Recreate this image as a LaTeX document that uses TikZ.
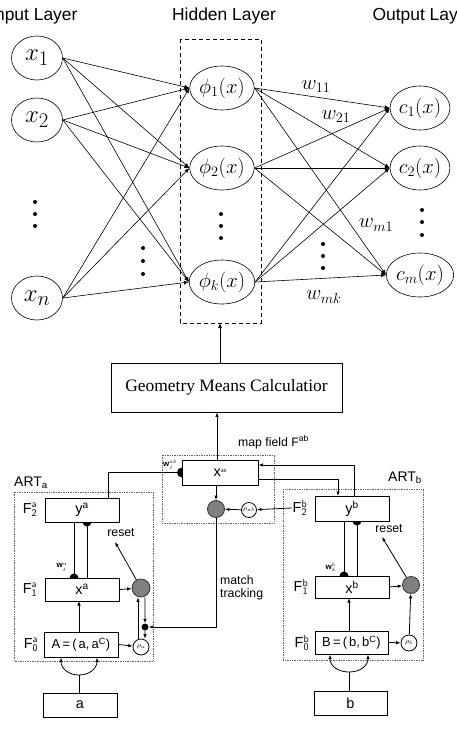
\documentclass[tikz,border=0pt]{standalone}
\usepackage{fontspec}
\setmainfont{Liberation Sans}
\newfontfamily\seriffont{Liberation Serif}
\usetikzlibrary{arrows.meta,shapes.geometric}
\begin{document}
\begin{tikzpicture}[x=1bp,y=-1bp,
  neuron/.style={ellipse,draw,line width=0.6bp,minimum width=51bp,minimum height=44bp,inner sep=0pt,font=\fontsize{22}{22}\selectfont},
  inneuron/.style={neuron,font=\fontsize{31}{31}\selectfont},
  conn/.style={line width=0.6bp,-{Latex[length=5bp,width=4bp]}},
  bigdot/.style={circle,fill,inner sep=0pt,minimum size=4bp},
  wlab/.style={font=\fontsize{19.5}{19.5}\selectfont},
  layerlab/.style={font=\fontsize{17.5}{17.5}\selectfont},
  artbox/.style={draw,line width=0.9bp,inner sep=0pt,font=\fontsize{14.5}{14.5}\selectfont},
  eqbox/.style={artbox,font=\fontsize{13}{13}\selectfont},
  artline/.style={line width=0.8bp},
  artarrow/.style={line width=0.8bp,-{Latex[length=4.5bp,width=3.5bp]}},
  grayc/.style={circle,draw=black!80,fill=black!50,line width=0.8bp,minimum size=17bp,inner sep=0pt},
  rhoc/.style={circle,draw,line width=0.8bp,minimum size=15bp,inner sep=0pt,font=\fontsize{7}{7}\selectfont},
  flab/.style={font=\fontsize{14.5}{14.5}\selectfont,inner sep=0pt},
  smlab/.style={font=\fontsize{12.3}{13.5}\selectfont,inner sep=0pt},
  dotbox/.style={draw=black!60,densely dotted,line width=0.7bp}
]
\useasboundingbox (0,0) rectangle (457,743);

% ---------- layer titles
\node[layerlab,anchor=east] (tin) at (81,16) {Input Layer};
\node[layerlab] (thid) at (224,16) {Hidden Layer};
\node[layerlab,anchor=west] (tout) at (369,16) {Output Layer};

% ---------- neurons
\node[inneuron] (x1) at (37,58) {$x_1$};
\node[inneuron] (x2) at (37,120) {$x_2$};
\node[inneuron] (xn) at (37,298) {$x_n$};
\node[neuron] (p1) at (222,88) {$\phi_1(x)$};
\node[neuron] (p2) at (222,168) {$\phi_2(x)$};
\node[neuron] (pk) at (222,282) {$\phi_k(x)$};
\node[neuron] (c1) at (420,108) {$c_1(x)$};
\node[neuron] (c2) at (420,168) {$c_2(x)$};
\node[neuron] (cm) at (420,275) {$c_m(x)$};

% dashed hidden box
\draw[dashed,line width=0.8bp,dash pattern=on 4bp off 3bp] (180,39) rectangle (261,323);

% connections
\foreach \i in {x1,x2,xn}
  \foreach \j in {p1,p2,pk}
    \draw[conn] (\i.east) -- (\j.west);
\foreach \i in {p1,p2,pk}
  \foreach \j in {c1,c2,cm}
    \draw[conn] (\i.east) -- (\j.west);

% dots
\foreach \y in {202,214,226} \node[bigdot] at (35,\y) {};
\foreach \y in {248,261,274} \node[bigdot] at (143,\y) {};
\foreach \y in {214,226,238} \node[bigdot] at (221,\y) {};
\foreach \y in {244,256,268} \node[bigdot] at (323,\y) {};
\foreach \y in {210,222,235} \node[bigdot] at (422,\y) {};

% weights
\node[wlab] (w11) at (316,87) {$w_{11}$};
\node[wlab] (w21) at (336,117) {$w_{21}$};
\node[wlab] (wm1) at (376,225) {$w_{m1}$};
\node[wlab] (wmk) at (324,297) {$w_{mk}$};

% ---------- GMC
\node[draw,line width=0.8bp,minimum width=231bp,minimum height=49bp,inner sep=0pt,
      font=\seriffont\fontsize{17.5}{17.5}\selectfont] (gmc) at (226.5,387.5) {Geometry Means Calculatior};
\coordinate (hbot) at (220,323);
\draw[conn,line width=0.9bp] (gmc.north -| hbot) -- (hbot);

% ---------- map field
\draw[dotbox] (162,455) rectangle (274,523);
\node[smlab,anchor=west] (mflab) at (238,442) {map field F\textsuperscript{ab}};
\node[artbox,minimum width=76bp,minimum height=25bp] (xab) at (220,472.5) {x\raisebox{4bp}{\fontsize{5}{5}\selectfont ab}};
\draw[artarrow] (xab.north -| 217,0) -- (gmc.south -| 217,0);
\fill (182,467.5) arc[start angle=90,end angle=270,radius=5bp] -- cycle;
\node[font=\fontsize{8}{8}\selectfont\bfseries,inner sep=0pt] (wab) at (170,465) {w$^{\scriptscriptstyle ab}_{\scriptscriptstyle j}$};
\node[grayc] (gab) at (216,509) {};
\node[rhoc] (rab) at (249,510) {$\rho_{ab}$};
\draw[artarrow] (gab |- xab.south) -- (gab.north);
\draw[artarrow] (rab) -- (gab);

% ---------- ART a
\draw[dotbox] (14,492) rectangle (153,661);
\node[font=\fontsize{14}{14}\selectfont,inner sep=0pt] (arta) at (31,483) {ART\textsubscript{a}};
\node[artbox,minimum width=74bp,minimum height=24bp] (ya) at (82,510) {y\textsuperscript{a}};
\node[artbox,minimum width=74bp,minimum height=23bp] (xa) at (82,589.5) {x\textsuperscript{a}};
\node[eqbox,minimum width=74bp,minimum height=25bp] (Aa) at (81,644.5) {A\,=\,(\,a,\,a\textsuperscript{C})};
\node[artbox,minimum width=74bp,minimum height=24bp] (ina) at (80,705) {a};
\node[flab] (f2a) at (30,510) {F$^{\mathsf a}_{\mathsf 2}$};
\node[flab] (f1a) at (30,590) {F$^{\mathsf a}_{\mathsf 1}$};
\node[flab] (f0a) at (31,645) {F$^{\mathsf a}_{\mathsf 0}$};
\node[grayc,minimum size=18bp] (ga) at (141,588) {};
\node[rhoc,minimum size=16bp] (ra) at (141,647) {$\rho_a$};
\node[circle,fill,inner sep=0pt,minimum size=7bp] (bdot) at (145,627) {};
\node[smlab] (reseta) at (121,533) {reset};
\node[smlab,anchor=west,align=left] (mt) at (220,588) {match\\tracking};

% weights between ya and xa
\draw[artline] (74,522) -- (74,578);
\fill (78.5,578) arc[start angle=0,end angle=180,radius=4.5bp] -- cycle;
\node[font=\fontsize{8}{8}\selectfont\bfseries,inner sep=0pt] (wja) at (62,567) {w$^{\scriptscriptstyle a}_{\scriptscriptstyle j}$};
\draw[artline] (87,522) -- (87,578);
\fill (82.5,522) arc[start angle=180,end angle=360,radius=4.5bp] -- cycle;
% from map field weights to ya
\draw[artline] (xab.west) -| (108,498);
\draw[artarrow] (xa.east) -- (ga);
\draw[artarrow] (ga) -- (115,542);
\draw[artarrow] ([xshift=-3bp]ra.north) -- ([xshift=-3bp]ga.south);
\draw[artarrow] ([xshift=4bp]ga.south) -- (bdot);
\draw[artarrow] (bdot) -- ([xshift=4bp]ra.north);
\draw[artarrow] (gab.south) |- (bdot);
\draw[artarrow] (Aa.east) -- (ra);
\draw[artarrow] (79,632) -- (79,601);
\draw[artline] (ina.north -| 79,0) -- (79,675);
\draw[artarrow] (79,675) .. controls (68,675) and (61,668) .. (61,657.5);
\draw[artarrow] (79,675) .. controls (90,675) and (97,668) .. (97,657.5);

% ---------- ART b
\draw[dotbox] (283,489) rectangle (423,660);
\node[font=\fontsize{14}{14}\selectfont,inner sep=0pt] (artb) at (405,478) {ART\textsubscript{b}};
\node[artbox,minimum width=74bp,minimum height=25bp] (yb) at (352,508.5) {y\textsuperscript{b}};
\node[artbox,minimum width=74bp,minimum height=22bp] (xb) at (352,587) {x\textsuperscript{b}};
\node[eqbox,minimum width=73bp,minimum height=23bp] (Bb) at (351.5,642.5) {B\,=\,(\,b,\,b\textsuperscript{C})};
\node[artbox,minimum width=73bp,minimum height=24bp] (inb) at (350.5,703) {b};
\node[flab,fill=white,inner sep=1bp] (f2b) at (300,508) {F$^{\mathsf b}_{\mathsf 2}$};
\node[flab] (f1b) at (301,587) {F$^{\mathsf b}_{\mathsf 1}$};
\node[flab] (f0b) at (302,643) {F$^{\mathsf b}_{\mathsf 0}$};
\node[grayc] (gb) at (411,585) {};
\node[rhoc,minimum size=16bp] (rb) at (409,643) {$\rho_b$};
\node[smlab] (resetb) at (389,529) {reset};

\draw[artline] (344,521) -- (344,576);
\fill (348.5,576) arc[start angle=0,end angle=180,radius=4.5bp] -- cycle;
\node[font=\fontsize{8}{8}\selectfont\bfseries,inner sep=0pt] (wkb) at (331,567) {w$^{\scriptscriptstyle b}_{\scriptscriptstyle k}$};
\draw[artline] (357,521) -- (357,576);
\fill (352.5,521) arc[start angle=180,end angle=360,radius=4.5bp] -- cycle;

% yb <-> xab
\draw[artarrow] (354,496) |- (xab.east |- 0,465);
\draw[artarrow] (xab.east |- 0,479) -| (338,496);
\draw[artarrow] (f2b.west) -- (rab);

\draw[artarrow] (xb.east) -- (gb);
\draw[artarrow] (gb) -- (382,537);
\draw[artarrow] (rb) -- (gb);
\draw[artarrow] (Bb.east) -- (rb);
\draw[artarrow] (349,631) -- (349,598);
\draw[artline] (inb.north -| 349,0) -- (349,672);
\draw[artarrow] (349,672) .. controls (338,672) and (330,666) .. (330,654.5);
\draw[artarrow] (349,672) .. controls (360,672) and (368,666) .. (368,654.5);
\end{tikzpicture}
\end{document}
